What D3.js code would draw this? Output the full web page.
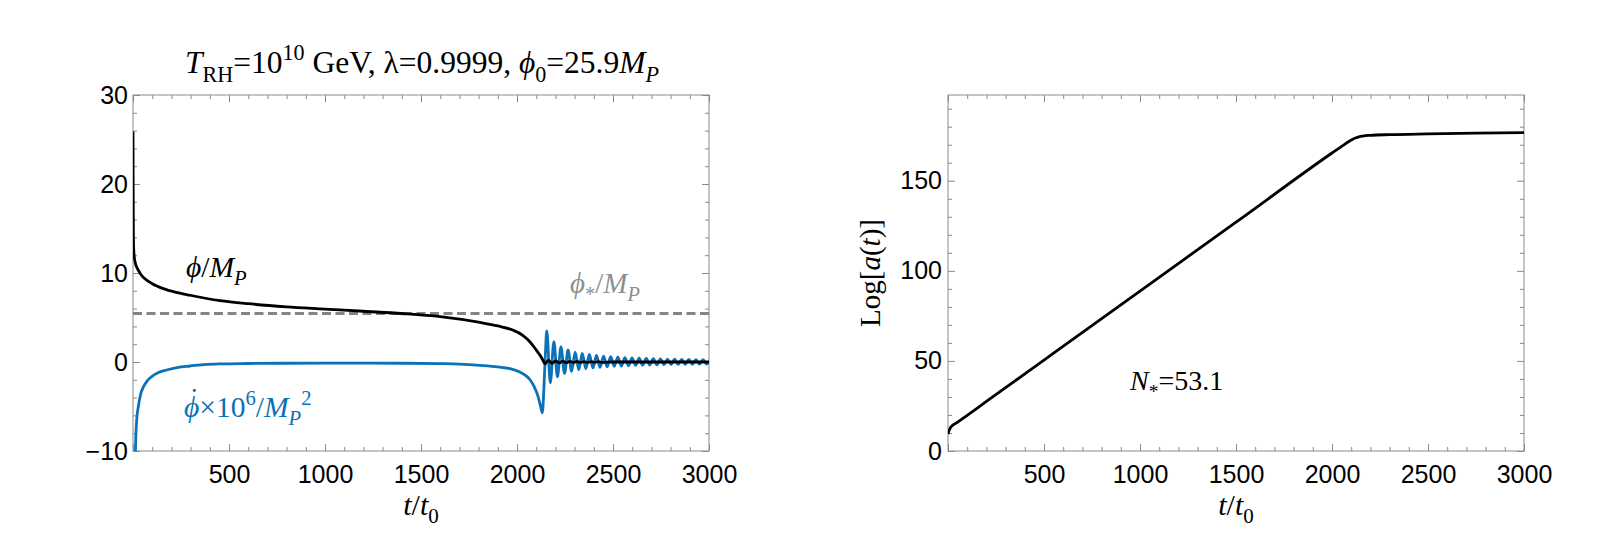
<!DOCTYPE html>
<html><head><meta charset="utf-8">
<script src="https://cdn.jsdelivr.net/npm/d3@7"></script>
<style>body{margin:0;background:#fff;}</style>
</head><body>
<svg id="c" width="1601" height="553"></svg>
<script>
// ---------------- data ----------------
const xTickLabels = [500, 1000, 1500, 2000, 2500, 3000];
const leftYTicks = [-10, 0, 10, 20, 30];
const rightYTicks = [0, 50, 100, 150];
const phiStar = 5.45;

// phi / M_P (black)
const phiT = [0, 0.8, 1.8, 3, 5, 10, 28, 50, 71, 100, 158, 220, 297, 453, 600, 800, 1000, 1200, 1400, 1600, 1807, 1900, 1981, 2030, 2068, 2095, 2120, 2135, 2145,
  2164, 2183, 2201, 2220, 2238, 2257, 2275, 2294, 2312, 2331, 2349, 2368, 2386, 2405, 2423, 2442, 2500, 3000];
const phiV = [25.9, 20, 15, 13, 12.2, 11.3, 10.3, 9.6, 9.2, 8.8, 8.25, 7.85, 7.5, 6.9, 6.55, 6.2, 5.95, 5.7, 5.45, 5.1, 4.45, 4.05, 3.56, 3.0, 2.25, 1.5, 0.75, 0.2, -0.2,
  0.17, -0.14, 0.12, -0.10, 0.09, -0.08, 0.07, -0.065, 0.06, -0.055, 0.05, -0.05, 0.045, -0.045, 0.04, -0.04, 0, 0];

// dphi x 1e6 / M_P^2 (blue)
const dphiT = [4, 9, 14, 20, 28, 40, 54, 75, 97, 130, 175, 230, 297, 370, 453, 600, 800, 1000, 1200, 1400, 1600, 1700, 1807, 1900, 1981, 2030, 2068, 2090, 2110, 2122, 2132, 2141, 2148,
  2155, 2173.5, 2192, 2210.5, 2229, 2247.5, 2266, 2284.5, 2303, 2321.5, 2340, 2358.5, 2377, 2395.5, 2414, 2432.5, 2451, 2469.5, 2488, 2506.5,
  2525, 2543.5, 2562, 2580.5, 2599, 2617.5, 2636, 2654.5, 2673, 2691.5, 2710, 2728.5, 2747, 2765.5, 2784, 2802.5, 2821, 2839.5,
  2858, 2876.5, 2895, 2913.5, 2932, 2950.5, 2969, 2987.5, 3000];
const dphiV = [-40, -15, -9.0, -6.3, -5.0, -3.6, -2.8, -2.1, -1.65, -1.2, -0.9, -0.62, -0.45, -0.3, -0.22, -0.17, -0.14, -0.13, -0.13, -0.14, -0.18, -0.23, -0.37, -0.55, -0.85, -1.3, -2.0, -2.8, -3.9, -4.9, -5.7, -2.5, 1.0,
  3.5, -2.35, 2.29, -1.66, 1.70, -1.28, 1.35, -1.04, 1.12, -0.88, 0.96, -0.76, 0.84, -0.67, 0.745, -0.60, 0.67, -0.54, 0.61, -0.49,
  0.55, -0.45, 0.50, -0.42, 0.46, -0.39, 0.43, -0.36, 0.40, -0.34, 0.37, -0.32, 0.35, -0.30, 0.33, -0.28, 0.31, -0.27,
  0.30, -0.26, 0.28, -0.25, 0.27, -0.24, 0.26, -0.23, 0.0];

// Log[a(t)] (right)
const logaT = [0, 5, 15, 50, 100, 200, 500, 1000, 1500, 2000, 2060, 2090, 2110, 2125, 2140, 2160, 2200, 2300, 2500, 2750, 3000];
const logaV = [9.4, 11.2, 13.3, 16.0, 19.8, 27.5, 50.5, 88.8, 127, 165.4, 169.8, 171.9, 173.2, 173.9, 174.4, 174.8, 175.2, 175.6, 176.0, 176.4, 176.7];

// ---------------- layout ----------------
const svg = d3.select('#c');
const SERIF = "'Liberation Serif','Times New Roman',serif";
const SANS = "'Liberation Sans',Arial,sans-serif";
const BLUE = '#0b72b8';
const FRAME = '#8a8a8a';

const L = {x0: 133, x1: 709, y0: 95, y1: 451};
const R = {x0: 948, x1: 1524, y0: 95, y1: 451};

const xL = d3.scaleLinear().domain([0, 3000]).range([L.x0, L.x1]);
const yL = d3.scaleLinear().domain([-10, 30]).range([L.y1, L.y0]);
const xR = d3.scaleLinear().domain([0, 3000]).range([R.x0, R.x1]);
const yR = d3.scaleLinear().domain([0, 197.6]).range([R.y1, R.y0]);

function frame(box, x, y, yMajor, yMinorStep, yMaxMinor, leftPad) {
  const g = svg.append('g');
  const xMinor = d3.range(0, 3001, 100).filter(v => v % 500 !== 0);
  const xMajor = d3.range(0, 3001, 500);
  const yMin = y.domain()[0];
  const yMinor = d3.range(yMin, yMaxMinor + 0.001, yMinorStep).filter(v => !yMajor.includes(v));
  const style = sel => {
    sel.select('.domain').remove();
    sel.selectAll('.tick line').attr('stroke', FRAME).attr('stroke-width', 1);
    sel.selectAll('text').attr('font-family', SANS).attr('font-size', 25).attr('fill', '#000');
  };
  // bottom
  g.append('g').attr('transform', `translate(0,${box.y1})`)
    .call(d3.axisBottom(x).tickValues(xMajor).tickSize(-7).tickPadding(14)
      .tickFormat(d => xTickLabels.includes(d) ? d3.format('d')(d) : '')).call(style);
  g.append('g').attr('transform', `translate(0,${box.y1})`)
    .call(d3.axisBottom(x).tickValues(xMinor).tickSize(-4).tickFormat('')).call(style);
  // top
  g.append('g').attr('transform', `translate(0,${box.y0})`)
    .call(d3.axisTop(x).tickValues(xMajor).tickSize(-7).tickFormat('')).call(style);
  g.append('g').attr('transform', `translate(0,${box.y0})`)
    .call(d3.axisTop(x).tickValues(xMinor).tickSize(-4).tickFormat('')).call(style);
  // left
  g.append('g').attr('transform', `translate(${box.x0},0)`)
    .call(d3.axisLeft(y).tickValues(yMajor).tickSize(-7).tickPadding(leftPad).tickFormat(d3.format('d'))).call(style);
  g.append('g').attr('transform', `translate(${box.x0},0)`)
    .call(d3.axisLeft(y).tickValues(yMinor).tickSize(-4).tickFormat('')).call(style);
  // right
  g.append('g').attr('transform', `translate(${box.x1},0)`)
    .call(d3.axisRight(y).tickValues(yMajor).tickSize(-7).tickFormat('')).call(style);
  g.append('g').attr('transform', `translate(${box.x1},0)`)
    .call(d3.axisRight(y).tickValues(yMinor).tickSize(-4).tickFormat('')).call(style);
  g.append('rect').attr('x', box.x0).attr('y', box.y0)
    .attr('width', box.x1 - box.x0).attr('height', box.y1 - box.y0)
    .attr('fill', 'none').attr('stroke', FRAME).attr('stroke-width', 1);
}

function rich(x, y, size, parts, opts = {}) {
  const t = svg.append('text').attr('x', x).attr('y', y)
    .attr('font-family', SERIF).attr('font-size', size)
    .attr('text-anchor', opts.anchor || 'start').attr('fill', opts.fill || '#000');
  if (opts.rotate) t.attr('transform', `rotate(${opts.rotate},${x},${y})`);
  let cur = 0;
  parts.forEach(([s, o = {}]) => {
    const target = o.pos === 'sub' ? size * 0.27 : o.pos === 'sup' ? -size * 0.42 : o.pos === 'dot' ? -size * 0.28 : 0;
    const ts = t.append('tspan').text(s).attr('dy', target - cur);
    cur = target;
    if (o.pos === 'sub' || o.pos === 'sup') ts.attr('font-size', size * 0.7);
    if (o.it) ts.attr('font-style', 'italic');
    if (o.cls) ts.attr('class', o.cls);
  });
  return t;
}

// clip paths
const defs = svg.append('defs');
defs.append('clipPath').attr('id', 'clipL').append('rect')
  .attr('x', L.x0).attr('y', L.y0).attr('width', L.x1 - L.x0).attr('height', L.y1 - L.y0);
defs.append('clipPath').attr('id', 'clipR').append('rect')
  .attr('x', R.x0).attr('y', R.y0).attr('width', R.x1 - R.x0).attr('height', R.y1 - R.y0);

// ---------------- left panel ----------------
frame(L, xL, yL, leftYTicks, 2, 28, 5);
const gL = svg.append('g').attr('clip-path', 'url(#clipL)');
const lineL = (T) => d3.line().x((d, i) => xL(T[i])).y(d => yL(d)).curve(d3.curveMonotoneX);

gL.append('path').datum(dphiV).attr('d', lineL(dphiT))
  .attr('fill', 'none').attr('stroke', BLUE).attr('stroke-width', 2.8);
gL.append('path').datum([phiStar, phiStar]).attr('d', lineL([0, 3000]))
  .attr('fill', 'none').attr('stroke', '#858585').attr('stroke-width', 3).attr('stroke-dasharray', '9,4.5');
gL.append('path').datum(phiV).attr('d', lineL(phiT))
  .attr('fill', 'none').attr('stroke', '#000').attr('stroke-width', 2.8);

// ---------------- right panel ----------------
frame(R, xR, yR, rightYTicks, 10, 190, 6);
const gR = svg.append('g').attr('clip-path', 'url(#clipR)');
gR.append('path').datum(logaV)
  .attr('d', d3.line().x((d, i) => xR(logaT[i])).y(d => yR(d)).curve(d3.curveMonotoneX))
  .attr('fill', 'none').attr('stroke', '#000').attr('stroke-width', 2.8);

// ---------------- texts ----------------
rich(422, 73, 31.5, [['T', {it: true}], ['RH', {pos: 'sub'}], ['=10'], ['10', {pos: 'sup'}],
  [' GeV, λ=0.9999, '], ['ϕ', {it: true}], ['0', {pos: 'sub'}], ['=25.9'], ['M', {it: true}], ['P', {it: true, pos: 'sub'}]],
  {anchor: 'middle'});

rich(186, 277, 29.5, [['ϕ', {it: true}], ['/'], ['M', {it: true}], ['P', {it: true, pos: 'sub'}]]);
rich(570, 293, 29, [['ϕ', {it: true}], ['*', {pos: 'sub'}], ['/'], ['M', {it: true}], ['P', {it: true, pos: 'sub'}]], {fill: '#8f8f8f'});

// blue label with a dot over phi, kept in one text element
const blueLab = rich(184, 417, 29.5, [['ϕ', {it: true, cls: 'ph'}], ['˙', {pos: 'dot', cls: 'dt'}], ['×10', {cls: 'af'}], ['6', {pos: 'sup'}], ['/'], ['M', {it: true}], ['P', {it: true, pos: 'sub'}], ['2', {pos: 'sup'}]], {fill: BLUE});
{
  const wPhi = blueLab.select('.ph').node().getComputedTextLength();
  const wDot = blueLab.select('.dt').node().getComputedTextLength();
  const shift = 2.5;
  blueLab.select('.dt').attr('dx', -wPhi / 2 - wDot / 2 + shift);
  blueLab.select('.af').attr('dx', wPhi / 2 - wDot / 2 - shift);
}

rich((L.x0 + L.x1) / 2, 515, 30, [['t', {it: true}], ['/'], ['t', {it: true}], ['0', {pos: 'sub'}]], {anchor: 'middle'});
rich((R.x0 + R.x1) / 2, 515, 30, [['t', {it: true}], ['/'], ['t', {it: true}], ['0', {pos: 'sub'}]], {anchor: 'middle'});

rich(880, (R.y0 + R.y1) / 2, 29, [['Log['], ['a', {it: true}], ['('], ['t', {it: true}], [')]']], {anchor: 'middle', rotate: -90});

rich(1130, 390, 28, [['N', {it: true}], ['*', {pos: 'sub'}], ['=53.1']]);
</script>
</body></html>
